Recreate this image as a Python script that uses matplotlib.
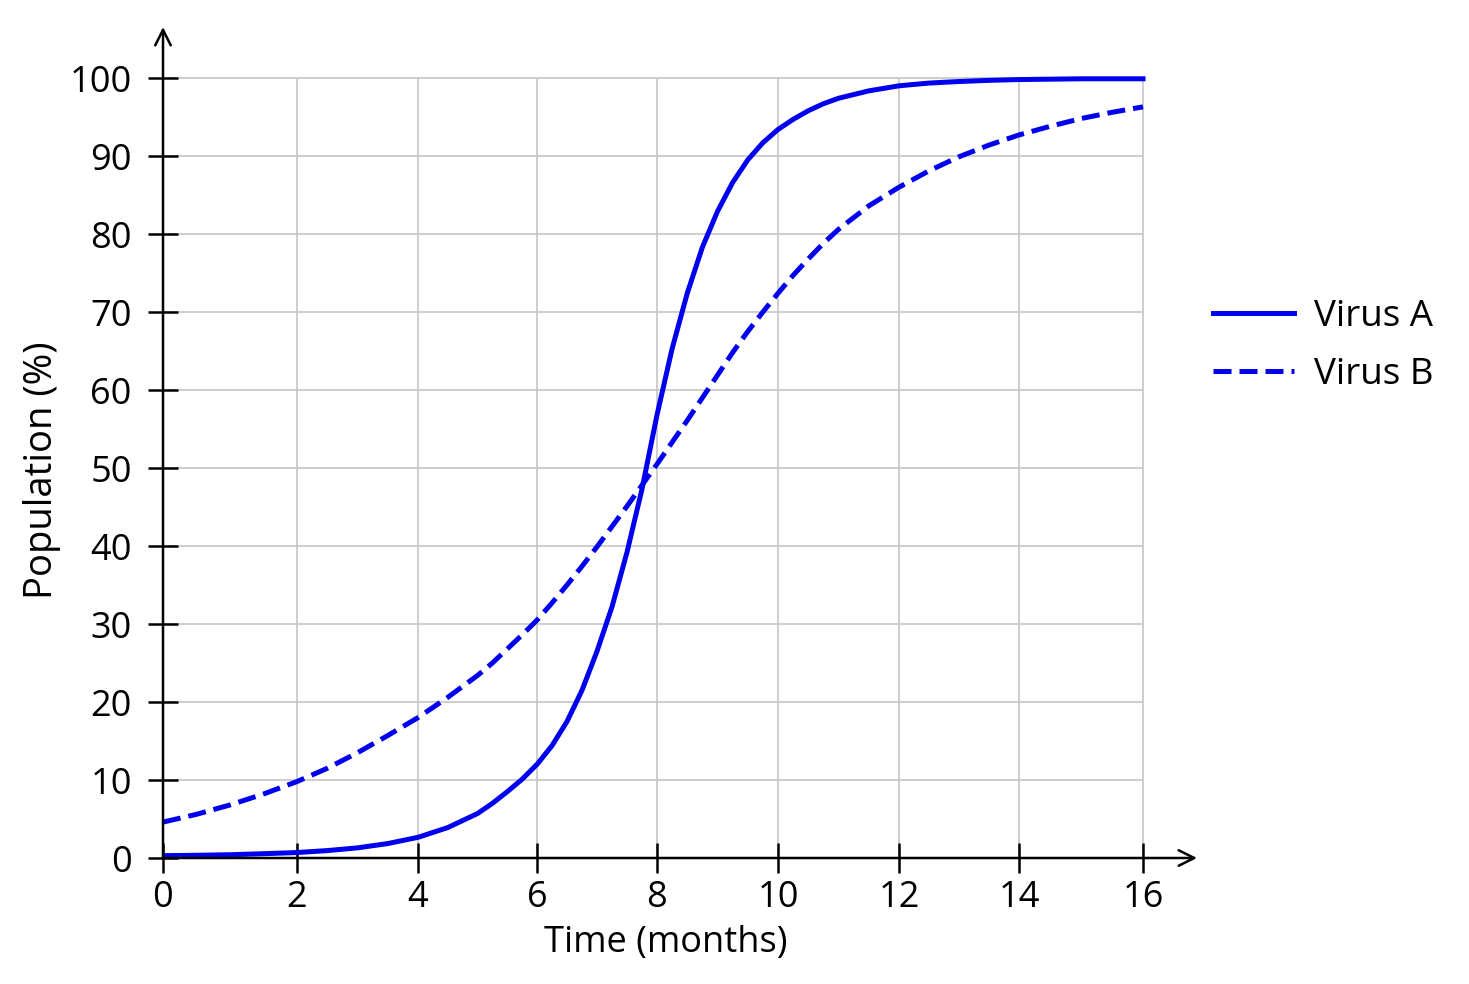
import matplotlib
matplotlib.use("Agg")
import matplotlib.pyplot as plt
import numpy as np

plt.rcParams['font.family'] = ['Open Sans', 'DejaVu Sans']

# months (denser where the curves are steep)
time = [0, 0.5, 1, 1.5, 2, 2.5, 3, 3.5, 4, 4.5, 5, 5.25, 5.5, 5.75, 6, 6.25, 6.5,
        6.75, 7, 7.25, 7.5, 7.75, 8, 8.25, 8.5, 8.75, 9, 9.25, 9.5, 9.75, 10,
        10.25, 10.5, 10.75, 11, 11.5, 12, 12.5, 13, 13.5, 14, 14.5, 15, 15.5, 16]
virus_a = [0.3, 0.35, 0.42, 0.55, 0.7, 0.95, 1.3, 1.85, 2.65, 3.9, 5.7, 7.0, 8.5,
           10.1, 12.0, 14.4, 17.5, 21.5, 26.5, 32.2, 39.2, 47.3, 56.8, 65.3, 72.4,
           78.3, 82.9, 86.6, 89.5, 91.7, 93.4, 94.7, 95.8, 96.7, 97.4, 98.35, 99.0,
           99.35, 99.55, 99.7, 99.8, 99.85, 99.9, 99.9, 99.9]
virus_b = [4.6, 5.6, 6.8, 8.2, 9.8, 11.5, 13.5, 15.7, 18.0, 20.6, 23.4, 25.0, 26.8,
           28.6, 30.5, 32.7, 35.0, 37.4, 39.9, 42.5, 45.1, 47.8, 50.5, 53.3, 56.1,
           59.0, 61.9, 64.8, 67.5, 70.0, 72.4, 74.7, 76.8, 78.8, 80.6, 83.6, 86.0,
           88.1, 89.9, 91.4, 92.7, 93.8, 94.8, 95.6, 96.3]

x_ticks = [0, 2, 4, 6, 8, 10, 12, 14, 16]
y_ticks = [0, 10, 20, 30, 40, 50, 60, 70, 80, 90, 100]

# the original's x grid is slightly uneven (first interval wider)
scale_t = [0, 2, 4, 6, 8, 10, 12, 14, 16, 18]
scale_px = [163, 297, 418, 537, 657, 778, 899, 1019, 1143, 1265]


def fwd(t):
    return np.interp(t, scale_t, scale_px)


def inv(p):
    return np.interp(p, scale_px, scale_t)


W, H = 1469, 984
fig = plt.figure(figsize=(W / 100, H / 100), dpi=100)
left, right, bottom, top = 163, 1197, 858, 27
ax = fig.add_axes([left / W, (H - bottom) / H, (right - left) / W, (bottom - top) / H])

ax.set_xscale('function', functions=(fwd, inv))
ax.set_xlim(0, inv(right))
ax.set_ylim(0, 100 * (bottom - top) / (bottom - 78))

grid_col = '#c6c6c6'
ax.vlines(x_ticks[1:], 0, 100, color=grid_col, lw=1.2, zorder=1)
ax.hlines(y_ticks[1:], 0, 16, color=grid_col, lw=1.2, zorder=1)

blue = '#0000ee'
ax.plot(time, virus_a, color=blue, lw=3.6, label='Virus A', zorder=3,
        solid_joinstyle='round')
ax.plot(time, virus_b, color=blue, lw=3.6, dashes=(3.6, 1.6), label='Virus B', zorder=3)

for s in ax.spines.values():
    s.set_visible(False)
ax.annotate('', xy=(1, 0), xytext=(0, 0), xycoords='axes fraction',
            arrowprops=dict(arrowstyle='->', lw=1.8, color='black',
                            mutation_scale=28, shrinkA=0, shrinkB=0))
ax.annotate('', xy=(0, 1), xytext=(0, 0), xycoords='axes fraction',
            arrowprops=dict(arrowstyle='->', lw=1.8, color='black',
                            mutation_scale=28, shrinkA=0, shrinkB=0))

ax.set_xticks(x_ticks)
ax.set_xticklabels([str(t) for t in x_ticks])
ax.set_yticks(y_ticks)
ax.minorticks_off()
ax.tick_params(direction='inout', length=21, width=1.8, labelsize=26, color='black')
ax.tick_params(axis='x', pad=5)
ax.tick_params(axis='y', pad=12)

ax.set_xlabel('Time (months)', fontsize=26, labelpad=7)
ax.set_ylabel('Population (%)', fontsize=27.5, labelpad=6)
ax.xaxis.label.set_x((666 - left) / (right - left))
ax.yaxis.label.set_y((bottom - 470) / (bottom - top))

fig.legend(loc='center left', bbox_to_anchor=(1180 / W, (H - 346) / H),
           frameon=False, fontsize=26.5, handlelength=2.2, handletextpad=0.55,
           labelspacing=0.6)

fig.savefig('out.png', dpi=100, facecolor='white')
